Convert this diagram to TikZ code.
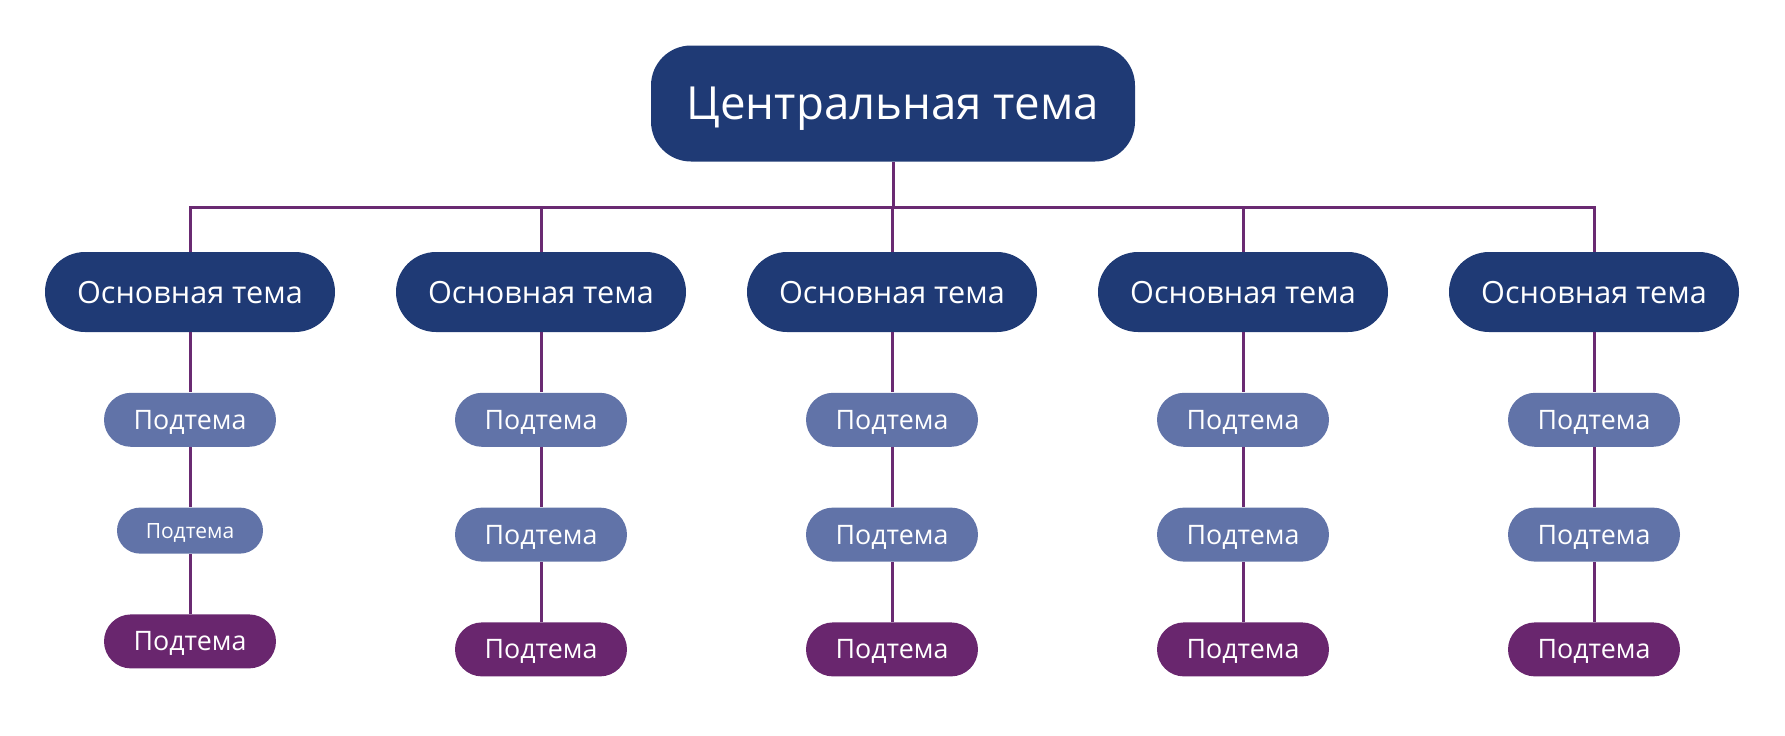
\documentclass[tikz,border=0pt]{standalone}
\usepackage{fontspec}
\setmainfont{Open Sans}
\usepackage{xcolor}
\usetikzlibrary{positioning}

\definecolor{navy}{HTML}{1F3A75}
\definecolor{slate}{HTML}{6173A8}
\definecolor{plum}{HTML}{69266E}
\definecolor{wire}{HTML}{6A2A72}

\begin{document}
\begin{tikzpicture}[
    x=0.5pt, y=-0.5pt,
    node distance=30pt,
    topic/.style={inner sep=0pt, text depth=0pt, text=white, align=center},
    central/.style={topic, fill=navy, rounded corners=20pt, minimum width=242pt, minimum height=58pt, font=\fontsize{22.8}{28}\selectfont},
    main/.style={topic, fill=navy, rounded corners=20pt, minimum width=145pt, minimum height=40pt, font=\fontsize{15.3}{19}\selectfont},
    sub/.style={topic, fill=slate, rounded corners=13.5pt, minimum width=86pt, minimum height=27pt, font=\fontsize{13.4}{16}\selectfont},
    small/.style={sub, rounded corners=11.5pt, minimum width=73pt, minimum height=23pt, font=\fontsize{10.5}{13}\selectfont},
    leaf/.style={sub, fill=plum},
    link/.style={draw=wire, line width=1.5pt},
]
\useasboundingbox (0,0) rectangle (1785,735);

% central topic and the bar under it
\node[central] (centre) at (893,103.5) {Центральная тема};
\coordinate (bar) at (893,207);

% main topics
\node[main] (m1) at (190,292) {Основная тема};
\node[main] (m2) at (541,292) {Основная тема};
\node[main] (m3) at (892,292) {Основная тема};
\node[main] (m4) at (1243,292) {Основная тема};
\node[main] (m5) at (1594,292) {Основная тема};

% subtopics
\node[sub, below=of m1] (s11) {Подтема};
\node[small, below=of s11] (s12) {Подтема};
\node[leaf, below=of s12] (s13) {Подтема};

\node[sub, below=of m2] (s21) {Подтема};
\node[sub, below=of s21] (s22) {Подтема};
\node[leaf, below=of s22] (s23) {Подтема};

\node[sub, below=of m3] (s31) {Подтема};
\node[sub, below=of s31] (s32) {Подтема};
\node[leaf, below=of s32] (s33) {Подтема};

\node[sub, below=of m4] (s41) {Подтема};
\node[sub, below=of s41] (s42) {Подтема};
\node[leaf, below=of s42] (s43) {Подтема};

\node[sub, below=of m5] (s51) {Подтема};
\node[sub, below=of s51] (s52) {Подтема};
\node[leaf, below=of s52] (s53) {Подтема};

% connectors
\draw[link] (centre) -- (bar);
\draw[link] (m1) |- (bar -| m5) -- (m5);
\draw[link] (m2) -- (m2 |- bar);
\draw[link] (m3) -- (m3 |- bar);
\draw[link] (m4) -- (m4 |- bar);

\draw[link] (m1) -- (s11) -- (s12) -- (s13);
\draw[link] (m2) -- (s21) -- (s22) -- (s23);
\draw[link] (m3) -- (s31) -- (s32) -- (s33);
\draw[link] (m4) -- (s41) -- (s42) -- (s43);
\draw[link] (m5) -- (s51) -- (s52) -- (s53);
\end{tikzpicture}
\end{document}
